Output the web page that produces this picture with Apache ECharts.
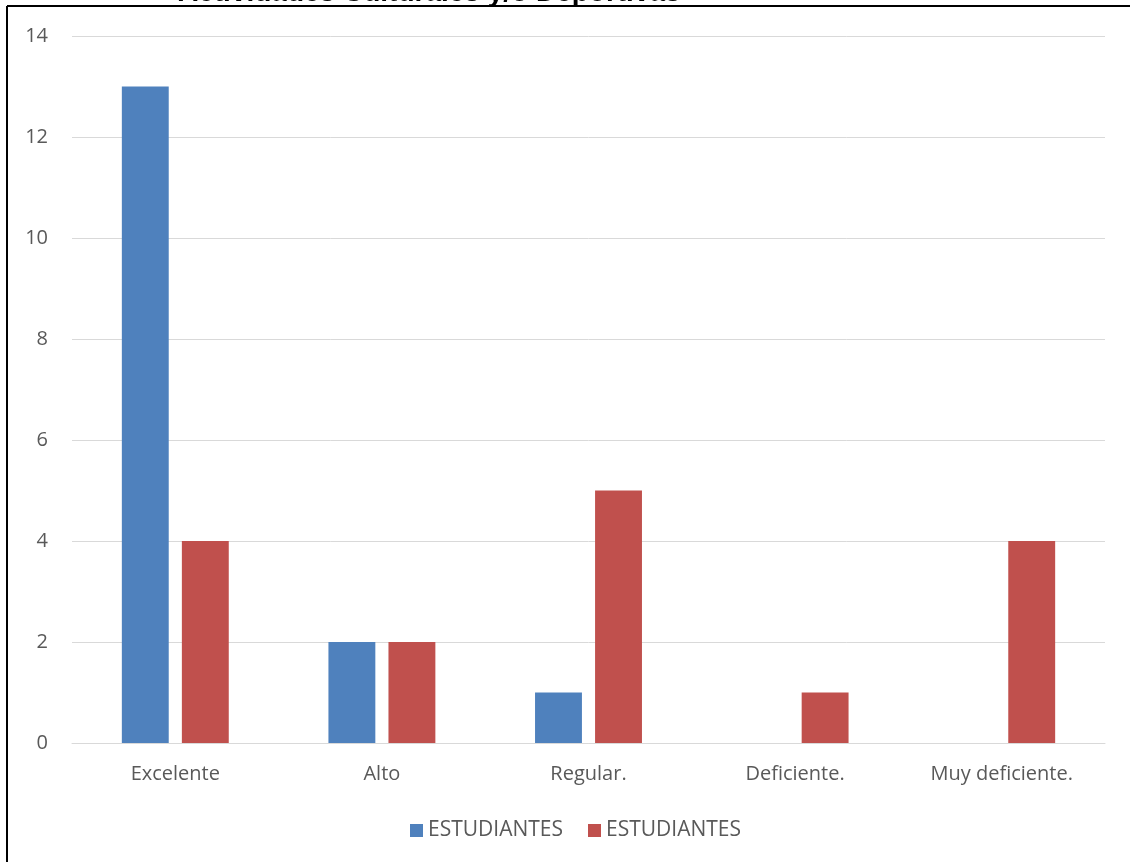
<!DOCTYPE html>
<html>
<head>
<meta charset="utf-8">
<script src="https://cdn.jsdelivr.net/npm/echarts@6/dist/echarts.min.js"></script>
<style>
html,body{margin:0;padding:0;background:#fff;}
#chart{width:1130px;height:862px;}
</style>
</head>
<body>
<div id="chart"></div>
<script>
const titleText = 'Actividades Culturales y/o Deportivas';
const categories = ['Excelente', 'Alto', 'Regular.', 'Deficiente.', 'Muy deficiente.'];
const seriesNames = ['ESTUDIANTES', 'ESTUDIANTES'];
const seriesA = [13, 2, 1, 0, 0];
const seriesB = [4, 2, 5, 1, 4];
const yTicks = [0, 2, 4, 6, 8, 10, 12, 14];

const FONT = '"Open Sans"';
const chart = echarts.init(document.getElementById('chart'), null, {renderer: 'canvas'});
chart.setOption({
  backgroundColor: '#ffffff',
  animation: false,
  title: {
    text: titleText,
    left: 178,
    top: -21,
    padding: 0,
    textStyle: {fontFamily: '"Liberation Sans"', fontWeight: 'bold', fontSize: 28, color: '#000', lineHeight: 28}
  },
  graphic: [
    {type: 'line', shape: {x1: 7, y1: 6, x2: 1130, y2: 6}, style: {stroke: '#000', lineWidth: 2}, z: 100},
    {type: 'line', shape: {x1: 7, y1: 6, x2: 7, y2: 862}, style: {stroke: '#000', lineWidth: 2}, z: 100}
  ],
  legend: {
    left: 405,
    top: 815,
    itemWidth: 13,
    itemHeight: 13,
    itemGap: 25,
    icon: 'rect',
    textStyle: {fontFamily: FONT, fontSize: 21, color: '#595959'},
    data: [
      {name: 'A', itemStyle: {color: '#4F81BD'}},
      {name: 'B', itemStyle: {color: '#C0504D'}}
    ],
    formatter: function (n) { return n === 'A' ? seriesNames[0] : seriesNames[1]; }
  },
  grid: {left: 72, right: 25, top: 36, bottom: 119, containLabel: false},
  xAxis: {
    type: 'category',
    data: categories,
    axisLine: {show: true, lineStyle: {color: '#D9D9D9', width: 1}},
    axisTick: {show: false},
    axisLabel: {fontFamily: FONT, fontSize: 20, color: '#595959', margin: 21}
  },
  yAxis: {
    type: 'value',
    min: yTicks[0],
    max: yTicks[yTicks.length - 1],
    interval: 2,
    axisLine: {show: false},
    axisTick: {show: false},
    splitLine: {lineStyle: {color: '#D9D9D9', width: 1}},
    axisLabel: {fontFamily: FONT, fontSize: 20, color: '#595959', margin: 24}
  },
  series: [
    {name: 'A', type: 'bar', data: seriesA, barWidth: '22.7%', barGap: '28%', itemStyle: {color: '#4F81BD'}},
    {name: 'B', type: 'bar', data: seriesB, barWidth: '22.7%', barGap: '28%', itemStyle: {color: '#C0504D'}}
  ]
});
</script>
</body>
</html>
